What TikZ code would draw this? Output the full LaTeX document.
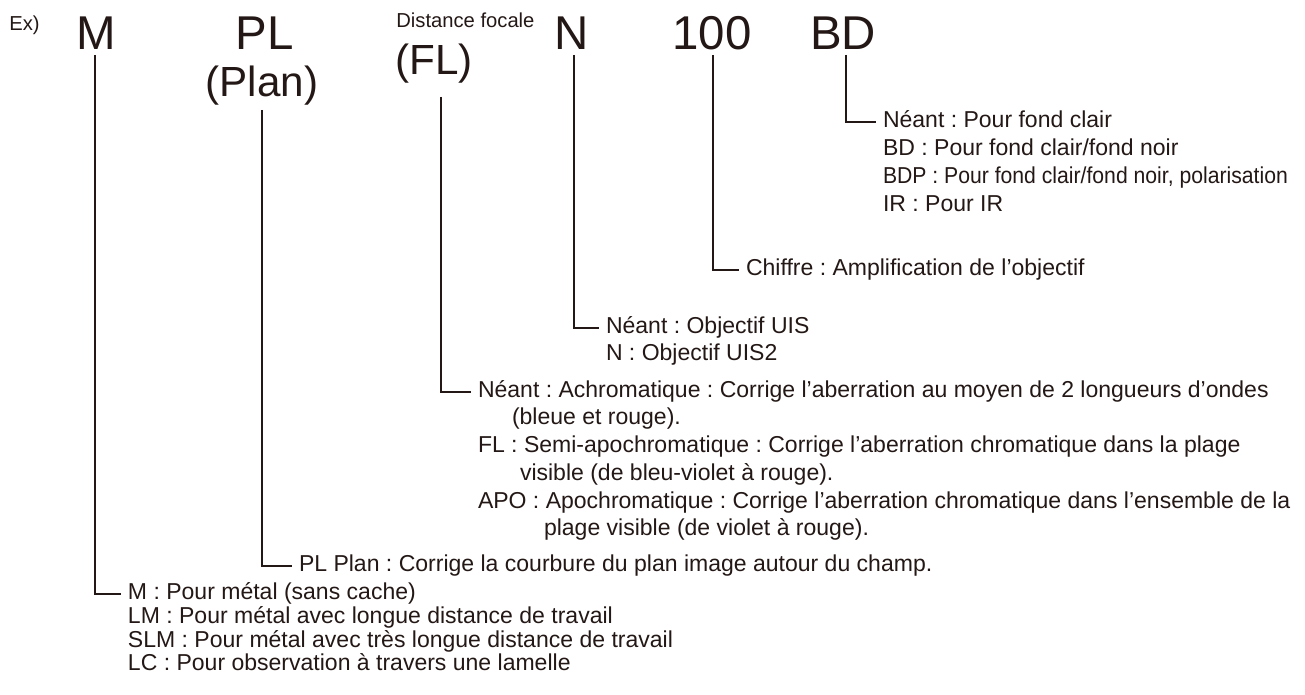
\documentclass[tikz,border=0pt]{standalone}
\usepackage{fontspec}
\setmainfont{Liberation Sans}
\usepackage{tikz}
\usetikzlibrary{positioning}

\definecolor{ink}{RGB}{35,24,21}
\frenchspacing

\tikzset{
  code/.style={anchor=base, inner sep=0pt, text=ink, font=\fontsize{27}{30}\selectfont},
  codesub/.style={anchor=base, inner sep=0pt, text=ink, font=\fontsize{24}{28}\selectfont},
  note/.style={anchor=base west, inner sep=0pt, text=ink, font=\fontsize{11.5}{13}\selectfont},
  desc/.style={anchor=west, inner sep=0pt, outer sep=0.14cm, text=ink,
    text height=1.6ex, text depth=0.4ex, font=\fontsize{13.1}{15}\selectfont},
  leader/.style={draw=ink, line width=0.8pt},
}

\begin{document}
\begin{tikzpicture}[x=0.02cm, y=-0.02cm]
  \useasboundingbox (0,0) rectangle (1305,695);

  % Code letters
  \node[note] (ex) at (9,31) {Ex)};
  \node[code] (lblM) at (96,50) {M};
  \node[code] (lblPL) at (265,50) {PL};
  \node[codesub] (lblPlan) at (262,97) {(Plan)};
  \node[note] (lblDist) at (396,28) {Distance focale};
  \node[codesub, anchor=base west] (lblFL) at (395,75) {(FL)};
  \node[code] (lblN) at (572,50) {N};
  \node[code] (lbl100) at (712,50) {100};
  \node[code] (lblBD) at (843,50) {BD};

  % Tops of the leaders
  \coordinate (topM) at (95,55);
  \coordinate (topPL) at (262,110);
  \coordinate (topFL) at (441,97);
  \coordinate (topN) at (574,55);
  \coordinate (top100) at (713,55);
  \coordinate (topBD) at (846,55);

  % BD (node x = text start - 7)
  \node[desc] (bd1) at (876,122) {Néant : Pour fond clair};
  \node[desc] (bd2) at (876,150) {BD : Pour fond clair/fond noir};
  \node[desc] (bd3) at (876,178) {\addfontfeature{FakeStretch=0.92}BDP : Pour fond clair/fond noir, polarisation};
  \node[desc] (bd4) at (876,206) {IR : Pour IR};

  % 100
  \node[desc] (mag) at (739,270) {Chiffre : Amplification de l’objectif};

  % N
  \node[desc] (n1) at (599,328) {Néant : Objectif UIS};
  \node[desc] (n2) at (599,355) {N : Objectif UIS2};

  % FL
  \node[desc] (fl1) at (471,392) {Néant : Achromatique : Corrige l’aberration au moyen de 2 longueurs d’ondes};
  \node[desc] (fl1b) at (505,419) {(bleue et rouge).};
  \node[desc] (fl2) at (471,447) {FL : Semi-apochromatique : Corrige l’aberration chromatique dans la plage};
  \node[desc] (fl2b) at (513,475) {visible (de bleu-violet à rouge).};
  \node[desc] (fl3) at (471,503) {APO : Apochromatique : Corrige l’aberration chromatique dans l’ensemble de la};
  \node[desc] (fl3b) at (537,530) {plage visible (de violet à rouge).};

  % PL
  \node[desc] (pl) at (292,566) {PL Plan : Corrige la courbure du plan image autour du champ.};

  % M
  \node[desc] (m1) at (121,594) {M : Pour métal (sans cache)};
  \node[desc] (m2) at (121,618) {LM : Pour métal avec longue distance de travail};
  \node[desc] (m3) at (121,642) {SLM : Pour métal avec très longue distance de travail};
  \node[desc] (m4) at (121,665) {LC : Pour observation à travers une lamelle};

  % Leaders
  \draw[leader] (topM) |- (m1.west);
  \draw[leader] (topPL) |- (pl.west);
  \draw[leader] (topFL) |- (fl1.west);
  \draw[leader] (topN) |- (n1.west);
  \draw[leader] (top100) |- (mag.west);
  \draw[leader] (topBD) |- (bd1.west);

\end{tikzpicture}
\end{document}
